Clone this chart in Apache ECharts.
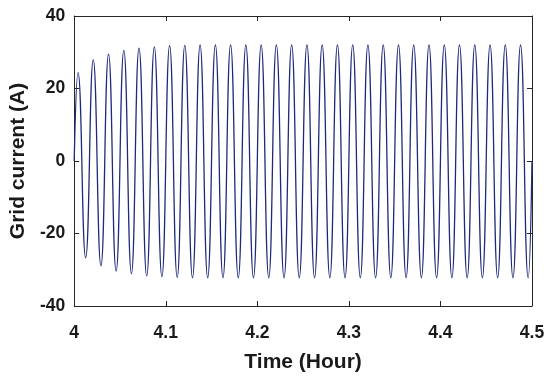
<!DOCTYPE html>
<html>
<head>
<meta charset="utf-8">
<script src="https://cdn.jsdelivr.net/npm/echarts@6/dist/echarts.min.js"></script>
<style>html,body{margin:0;padding:0;background:#fff;}#c{width:550px;height:378px;}</style>
</head>
<body>
<div id="c"></div>
<script>
// Extrema (time in hours, current in A)
var startPoint = [4.0, 0];
var endPoint = [4.5, 0];
var peakTimes = [4.0042,4.0208,4.0375,4.0542,4.0708,4.0875,4.1042,4.1208,4.1375,4.1542,
                 4.1708,4.1875,4.2042,4.2208,4.2375,4.2542,4.2708,4.2875,4.3042,4.3208,
                 4.3375,4.3542,4.3708,4.3875,4.4042,4.4208,4.4375,4.4542,4.4708,4.4875];
var peakValues = [24.4,27.9,29.5,30.5,31.1,31.5,31.8,31.9,32.0,32.0,
                  32.0,32.0,32.0,32.0,32.0,32.0,32.0,32.0,32.0,32.0,
                  32.0,32.0,32.0,32.0,32.0,32.0,32.0,32.0,32.0,32.0];
var troughTimes = [4.0125,4.0292,4.0458,4.0625,4.0792,4.0958,4.1125,4.1292,4.1458,4.1625,
                   4.1792,4.1958,4.2125,4.2292,4.2458,4.2625,4.2792,4.2958,4.3125,4.3292,
                   4.3458,4.3625,4.3792,4.3958,4.4125,4.4292,4.4458,4.4625,4.4792,4.4958];
var troughValues = [-26.7,-28.9,-30.4,-31.1,-31.7,-31.9,-32.1,-32.2,-32.2,-32.2,
                    -32.2,-32.2,-32.2,-32.2,-32.2,-32.2,-32.2,-32.2,-32.2,-32.2,
                    -32.2,-32.2,-32.2,-32.2,-32.2,-32.2,-32.2,-32.2,-32.2,-32.2];
var xTicks = [4, 4.1, 4.2, 4.3, 4.4, 4.5];
var yTicks = [-40, -20, 0, 20, 40];

var pts = [startPoint];
for (var i = 0; i < peakTimes.length; i++) {
  pts.push([peakTimes[i], peakValues[i]]);
  pts.push([troughTimes[i], troughValues[i]]);
}
pts.push(endPoint);

var font = 'Liberation Sans, Arial, sans-serif';
var axisCol = '#262626';
var chart = echarts.init(document.getElementById('c'), null, {renderer: 'canvas'});
function baseAxis(extra) {
  var a = {
    axisLine: {show: true, onZero: false, lineStyle: {color: axisCol, width: 1}},
    axisTick: {show: true, inside: true, length: 5, lineStyle: {color: axisCol}},
    splitLine: {show: false}
  };
  for (var k in extra) a[k] = extra[k];
  return a;
}
chart.setOption({
  animation: false,
  backgroundColor: '#ffffff',
  grid: {left: 69, right: 18, top: 16, bottom: 63, containLabel: false},
  xAxis: [
    baseAxis({type: 'value', min: xTicks[0], max: xTicks[xTicks.length-1], interval: 0.1,
      name: 'Time (Hour)', nameLocation: 'middle', nameGap: 46,
      nameTextStyle: {fontFamily: font, fontWeight: 'bold', fontSize: 21, color: '#1a1a1a'},
      axisLabel: {margin: 18, fontFamily: font, fontWeight: 'bold', fontSize: 17.5, color: '#1a1a1a',
        formatter: function(v){ return String(Math.round(v*10)/10); }}}),
    baseAxis({type: 'value', position: 'top', min: xTicks[0], max: xTicks[xTicks.length-1], interval: 0.1,
      axisLabel: {show: false}})
  ],
  yAxis: [
    baseAxis({type: 'value', min: yTicks[0], max: yTicks[yTicks.length-1], interval: 20,
      name: 'Grid current (A)', nameLocation: 'middle', nameGap: 41,
      nameTextStyle: {fontFamily: font, fontWeight: 'bold', fontSize: 21, color: '#1a1a1a'},
      axisLabel: {margin: 9, fontFamily: font, fontWeight: 'bold', fontSize: 17.5, color: '#1a1a1a'}}),
    baseAxis({type: 'value', position: 'right', min: yTicks[0], max: yTicks[yTicks.length-1], interval: 20,
      axisLabel: {show: false}})
  ],
  series: [{
    type: 'line',
    data: pts,
    smooth: 0.5,
    showSymbol: false,
    symbol: 'none',
    lineStyle: {color: '#1f2a7a', width: 1.3}
  }]
});
</script>
</body>
</html>
